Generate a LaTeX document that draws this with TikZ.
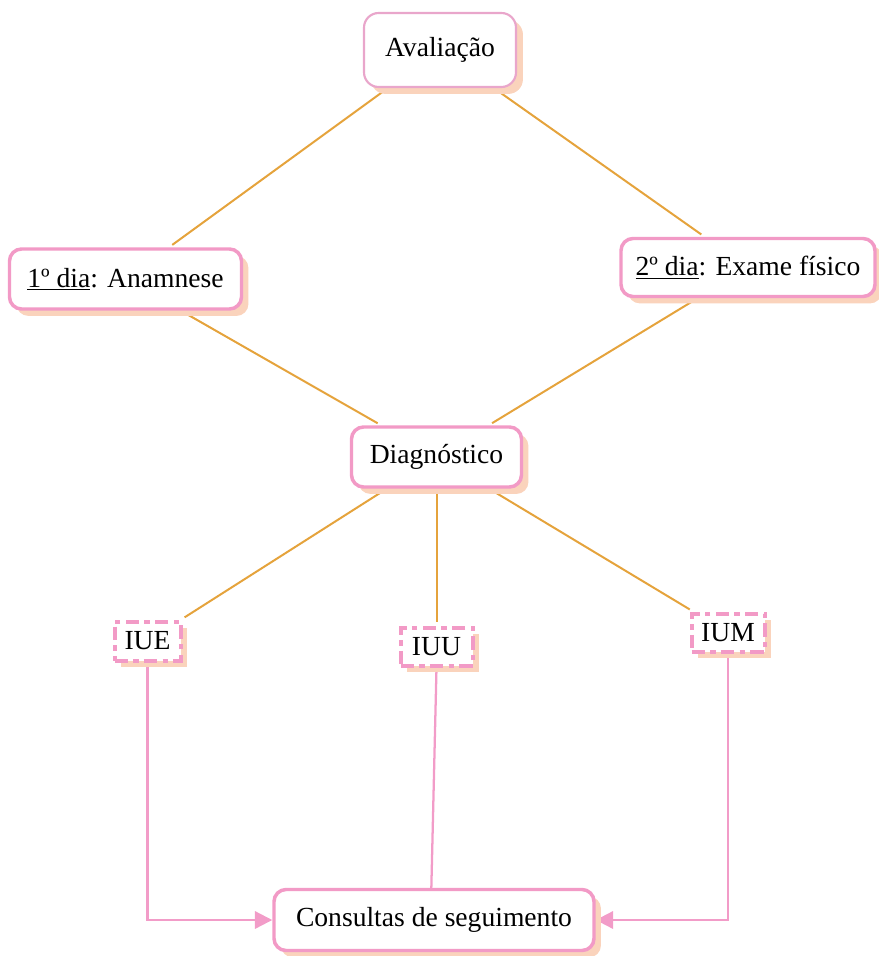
\documentclass[tikz,border=0pt]{standalone}
\usepackage{fontspec}
\setmainfont{Liberation Serif}
\usetikzlibrary{shadows,arrows.meta,backgrounds}
\definecolor{pinkb}{HTML}{F29AC6}
\definecolor{pinkl}{HTML}{E9A6CB}
\definecolor{peach}{HTML}{FAD3BC}
\definecolor{oline}{HTML}{E5A33C}
\definecolor{pline}{HTML}{F29CC8}
\begin{document}
\begin{tikzpicture}[x=0.75pt,y=-0.75pt,
  box/.style={draw=pinkb, line width=2.6pt, fill=white, rounded corners=9pt,
    inner sep=0pt, font=\fontsize{20.7}{24}\selectfont,
    general shadow={fill=peach, shadow xshift=5.2pt, shadow yshift=-5.2pt}},
  dbox/.style={box, line width=3pt, rounded corners=0pt, dash pattern=on 10pt off 4pt on 4pt off 4pt},
  conn/.style={draw=oline, line width=1.5pt, shorten <=3pt, shorten >=3pt},
  pconn/.style={draw=pline, line width=1.7pt},
  ptip/.style={-{Triangle[length=13pt,width=13pt]}}
]
\useasboundingbox (0,0) rectangle (878,956);
\node[box, draw=pinkl, line width=1.6pt, rounded corners=11pt,
  minimum width=152*0.75pt, minimum height=74*0.75pt] (aval) at (440,50) {Avaliação};
\node[box, minimum width=232*0.75pt, minimum height=60*0.75pt] (dia1) at (125.5,279) {\underline{1º dia}: Anamnese};
\node[box, minimum width=254*0.75pt, minimum height=58*0.75pt] (dia2) at (748,267.5) {\underline{2º dia}: Exame físico};
\node[box, minimum width=170*0.75pt, minimum height=60*0.75pt] (diag) at (436.5,457) {Diagnóstico};
\node[dbox, minimum width=66*0.75pt, minimum height=39*0.75pt] (iue) at (147.5,641) {IUE};
\node[dbox, minimum width=72*0.75pt, minimum height=38*0.75pt] (iuu) at (436.5,646.5) {IUU};
\node[dbox, minimum width=73*0.75pt, minimum height=38*0.75pt] (ium) at (728,632.5) {IUM};
\node[box, minimum width=320*0.75pt, minimum height=61*0.75pt] (cons) at (434,920) {Consultas de seguimento};
\begin{scope}[on background layer]
\draw[conn] (aval) -- (dia1);
\draw[conn] (aval) -- (dia2);
\draw[conn] (dia1) -- (diag);
\draw[conn] (dia2) -- (diag);
\draw[conn] (diag) -- (iue);
\draw[conn] (diag) -- (iuu);
\draw[conn] (diag) -- (ium);
\draw[pconn, ptip] (iue.south) |- (cons.west);
\draw[pconn] (iuu.south) -- ([xshift=-2pt]cons.north);
\draw[pconn, ptip] (ium.south) |- (cons.east);
\end{scope}
\end{tikzpicture}
\end{document}
